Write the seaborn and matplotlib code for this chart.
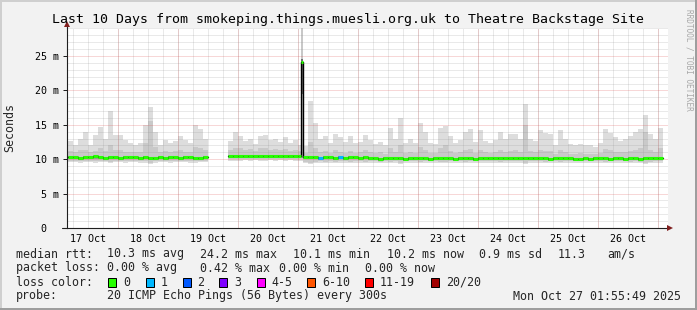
import numpy as np
import pandas as pd
import matplotlib
matplotlib.use("Agg")
import matplotlib.pyplot as plt
from matplotlib.patches import Rectangle
import seaborn as sns

nan = np.nan

# ---------------- data ----------------
title = "Last 10 Days from smokeping.things.muesli.org.uk to Theatre Backstage Site"
day_labels = ["17 Oct", "18 Oct", "19 Oct", "20 Oct", "21 Oct",
              "22 Oct", "23 Oct", "24 Oct", "25 Oct", "26 Oct"]
ytick_values = [0, 5, 10, 15, 20, 25]
ytick_labels = ["0  ", "5 m", "10 m", "15 m", "20 m", "25 m"]

first_bin_hour = 4      # hours after 17 Oct 00:00
bin_hours = 2

# median rtt per 2h bin (ms)
median_ms = [
    10.3, 10.3, 10.2, 10.3, 10.3, 10.4, 10.3, 10.2, 10.3, 10.3,                # 17 Oct
    10.2, 10.3, 10.3, 10.3, 10.2, 10.3, 10.2, 10.2, 10.3, 10.2, 10.3, 10.3,    # 18 Oct
    10.2, 10.3, 10.3, 10.2, 10.2, 10.3, nan, nan, nan, nan, 10.5, 10.5,        # 19 Oct
    10.5, 10.5, 10.5, 10.5, 10.5, 10.5, 10.5, 10.5, 10.5, 10.5, 10.5, 10.5,    # 20 Oct
    10.5, 10.3, 10.3, 10.3, 10.2, 10.3, 10.3, 10.2, 10.3, 10.2, 10.3, 10.3,    # 21 Oct
    10.2, 10.3, 10.2, 10.2, 10.1, 10.2, 10.2, 10.2, 10.2, 10.1, 10.2, 10.2,    # 22 Oct
    10.2, 10.2, 10.1, 10.2, 10.2, 10.2, 10.2, 10.1, 10.2, 10.2, 10.2, 10.1,    # 23 Oct
    10.2, 10.2, 10.2, 10.2, 10.2, 10.2, 10.2, 10.2, 10.2, 10.2, 10.2, 10.2,    # 24 Oct
    10.2, 10.2, 10.1, 10.2, 10.2, 10.2, 10.2, 10.1, 10.1, 10.2, 10.1, 10.2,    # 25 Oct
    10.2, 10.2, 10.1, 10.2, 10.2, 10.1, 10.2, 10.2, 10.1, 10.2, 10.2, 10.2,    # 26 Oct
    10.2,                                                                      # 27 Oct
]

# smoke: lowest ping per bin (ms)
smoke_min_ms = [
    9.6, 9.6, 9.5, 9.6, 9.6, 9.5, 9.6, 9.6, 9.4, 9.6,
    9.6, 9.5, 9.6, 9.6, 9.5, 9.5, 9.3, 9.5, 9.6, 9.6, 9.5, 9.6,
    9.6, 9.6, 9.5, 9.5, 9.6, 9.6, nan, nan, nan, nan, 9.8, 9.8,
    9.8, 9.9, 9.8, 9.9, 9.8, 9.8, 9.9, 9.8, 9.9, 9.8, 9.9, 9.8,
    9.8, 9.4, 9.3, 9.4, 9.5, 9.4, 9.5, 9.4, 9.5, 9.5, 9.4, 9.5,
    9.5, 9.4, 9.5, 9.5, 9.4, 9.5, 9.4, 9.5, 9.3, 9.5, 9.5, 9.5,
    9.4, 9.5, 9.5, 9.5, 9.4, 9.4, 9.5, 9.5, 9.5, 9.4, 9.5, 9.5,
    9.5, 9.5, 9.5, 9.5, 9.4, 9.5, 9.5, 9.5, 9.5, 9.3, 9.5, 9.5,
    9.5, 9.4, 9.5, 9.5, 9.4, 9.5, 9.5, 9.5, 9.5, 9.5, 9.5, 9.5,
    9.5, 9.4, 9.5, 9.5, 9.5, 9.5, 9.4, 9.5, 9.4, 9.3, 9.4, 9.5,
    9.5,
]

# smoke: upper edge of the denser (middle) pings per bin (ms)
smoke_q3_ms = [
    11.2, 11.0, 11.3, 11.4, 11.0, 11.2, 11.6, 11.2, 12.0, 11.3,
    11.4, 11.1, 11.0, 11.0, 11.1, 12.4, 15.5, 11.8, 11.0, 11.2, 11.1, 11.2,
    11.3, 11.1, 11.0, 11.8, 11.6, 11.3, nan, nan, nan, nan, 11.3, 11.6,
    11.6, 11.3, 11.5, 11.2, 11.6, 11.7, 11.4, 11.5, 11.3, 11.5, 11.2, 11.4,
    11.2, 10.9, 12.5, 11.6, 11.0, 11.2, 10.9, 11.3, 11.1, 10.9, 11.2, 10.9,
    11.0, 11.3, 11.1, 10.9, 11.0, 10.8, 11.6, 11.1, 12.0, 10.9, 11.1, 10.9,
    11.8, 11.4, 10.9, 10.9, 11.6, 12.0, 11.2, 10.9, 11.0, 11.4, 11.5, 10.9,
    11.4, 11.0, 10.9, 11.0, 11.3, 11.0, 11.2, 11.3, 11.0, 15.0, 11.2, 11.0,
    11.4, 11.2, 11.2, 10.8, 11.4, 11.0, 10.8, 10.8, 10.9, 10.8, 10.8, 10.7,
    10.9, 11.5, 11.3, 11.1, 11.0, 11.1, 11.2, 11.4, 11.6, 14.0, 11.3, 11.0,
    11.6,
]

# smoke: highest ping per bin (ms)
smoke_max_ms = [
    12.7, 12.1, 13.0, 14.0, 12.0, 13.5, 14.7, 13.0, 17.0, 13.5,
    13.5, 12.8, 12.4, 12.1, 12.4, 15.0, 17.6, 14.0, 12.1, 12.8, 12.4, 12.7,
    13.3, 12.8, 12.4, 15.0, 14.4, 13.0, nan, nan, nan, nan, 12.6, 14.0,
    13.4, 12.6, 12.9, 12.2, 13.3, 13.5, 12.8, 13.0, 12.5, 13.2, 12.3, 12.8,
    12.0, 11.9, 18.4, 15.3, 13.0, 13.4, 12.4, 13.7, 13.2, 12.5, 13.3, 12.4,
    12.5, 13.5, 12.8, 12.2, 12.5, 12.0, 14.6, 13.0, 16.0, 12.4, 13.0, 12.3,
    15.3, 14.0, 12.4, 12.2, 14.6, 14.8, 13.4, 12.4, 12.8, 14.0, 14.4, 12.5,
    14.2, 12.6, 12.4, 12.8, 14.0, 12.9, 13.6, 13.7, 13.0, 18.0, 13.0, 12.6,
    14.2, 13.8, 13.6, 12.1, 14.2, 13.0, 12.2, 12.0, 12.2, 12.1, 12.0, 11.8,
    12.4, 14.4, 13.8, 13.2, 12.6, 13.0, 13.4, 14.0, 14.4, 16.4, 13.6, 13.0,
    14.5,
]

# lost pings (out of 20) per bin
loss_count = [
    0, 0, 0, 0, 0, 0, 0, 0, 0, 0,
    0, 0, 0, 0, 0, 0, 0, 0, 0, 0, 0, 0,
    0, 0, 0, 0, 0, 0, 0, 0, 0, 0, 0, 0,
    0, 0, 0, 0, 0, 0, 0, 0, 0, 0, 0, 0,
    0, 0, 0, 0, 1, 0, 0, 0, 1, 0, 0, 0,
    0, 0, 0, 0, 0, 0, 0, 0, 0, 0, 0, 0,
    0, 0, 0, 0, 0, 0, 0, 0, 0, 0, 0, 0,
    0, 0, 0, 0, 0, 0, 0, 0, 0, 0, 0, 0,
    0, 0, 0, 0, 0, 0, 0, 0, 0, 0, 0, 0,
    0, 0, 0, 0, 0, 0, 0, 0, 0, 0, 0, 0,
    0,
]

# short latency spike on 21 Oct
spike_start_hour = 97.2
spike_end_hour = 98.0
spike_median_ms = 24.2
spike_dense_low_ms = 19.5
spike_max_ms = 30.0

loss_legend_labels = ["0", "1", "2", "3", "4-5", "6-10", "11-19", "20/20"]
loss_legend_colors = ["#26ff00", "#00b8ff", "#0059ff", "#7e00ff",
                      "#ff00ff", "#ff5500", "#ff0000", "#a10000"]

stats_rtt = ["10.3 ms avg", "24.2 ms max", "10.1 ms min", "10.2 ms now",
             "0.9 ms sd", "11.3", "am/s"]
stats_loss = ["0.00 % avg", "0.42 % max", "0.00 % min", "0.00 % now"]
probe_text = "20 ICMP Echo Pings (56 Bytes) every 300s"
stamp_text = "Mon Oct 27 01:55:49 2025"

# ---------------- layout ----------------
W, H = 697, 310
BACK = "#f2f2f2"
sns.set_theme(style="white")
plt.rcParams["font.family"] = ["DejaVu Sans Mono", "DejaVu Sans"]

fig = plt.figure(figsize=(W / 100, H / 100), dpi=100, facecolor=BACK)


def fx(x):
    return x / W


def fy(y):
    return 1 - y / H


ax = fig.add_axes([fx(67), fy(228), 601 / W, 200 / H])
ax.set_facecolor("white")
ax.set_xlim(3.6, 244)
ax.set_ylim(0, 200 / 6.88)

n = len(median_ms)
assert all(len(a) == n for a in (smoke_min_ms, smoke_q3_ms, smoke_max_ms, loss_count))
hours = first_bin_hour + bin_hours * np.arange(n)
med = np.array(median_ms, float)
smin = np.array(smoke_min_ms, float)
sq3 = np.array(smoke_q3_ms, float)
smax = np.array(smoke_max_ms, float)
ok = ~np.isnan(med)

# smoke layers
ax.bar(hours[ok], (smax - smin)[ok], bottom=smin[ok], width=bin_hours, align="edge",
       color="#dddddd", linewidth=0, antialiased=False, zorder=1)
ax.bar(hours[ok], (sq3 - smin - 0.2)[ok], bottom=(smin + 0.2)[ok], width=bin_hours,
       align="edge", color="#c9c9c9", linewidth=0, antialiased=False, zorder=1)
ax.bar(hours[ok], 0.4, bottom=(med - 0.3)[ok], width=bin_hours, align="edge",
       color="#9a9a9a", linewidth=0, antialiased=False, zorder=1)
# spike smoke
ax.bar([spike_start_hour], [spike_max_ms - 10.5], bottom=[10.5],
       width=spike_end_hour - spike_start_hour, align="edge", color="#c8c8c8",
       linewidth=0, zorder=1)
ax.bar([spike_start_hour], [spike_median_ms + 0.3 - spike_dense_low_ms],
       bottom=[spike_dense_low_ms], width=spike_end_hour - spike_start_hour,
       align="edge", color="#707070", linewidth=0, zorder=1)

# median as step line (black connectors)
rows = []
seg = 0
prev_ok = False
for k in range(n):
    if np.isnan(med[k]):
        if prev_ok:
            rows.append((hours[k], med[k - 1], seg))
            seg += 1
        prev_ok = False
        continue
    rows.append((hours[k], med[k], seg))
    if hours[k] < spike_start_hour < hours[k] + bin_hours:
        rows.append((spike_start_hour, spike_median_ms, seg))
    prev_ok = True
rows.append((hours[-1] + bin_hours, med[-1], seg))
df = pd.DataFrame(rows, columns=["hour", "ms", "seg"])
sns.lineplot(data=df, x="hour", y="ms", units="seg", estimator=None, sort=False,
             drawstyle="steps-post", color="black", linewidth=1.0, ax=ax,
             legend=False, zorder=2)


def loss_color(c):
    if c <= 0:
        return loss_legend_colors[0]
    if c <= 3:
        return loss_legend_colors[c]
    if c <= 5:
        return loss_legend_colors[4]
    if c <= 10:
        return loss_legend_colors[5]
    if c <= 19:
        return loss_legend_colors[6]
    return loss_legend_colors[7]


xs0, xs1, ys, cs = [], [], [], []
for k in range(n):
    if not ok[k]:
        continue
    end = hours[k] + bin_hours
    if hours[k] < spike_start_hour < end:
        end = spike_start_hour
    xs0.append(hours[k]); xs1.append(end); ys.append(med[k]); cs.append(loss_color(loss_count[k]))
xs0.append(spike_start_hour); xs1.append(spike_end_hour); ys.append(spike_median_ms)
cs.append(loss_legend_colors[0])
ax.hlines(ys, xs0, xs1, colors=cs, linewidth=2.2, zorder=2.1, capstyle="butt")

# ---------------- grid & axes ----------------
ax.set_xticks(np.arange(12, 240, 24))
ax.set_xticklabels(day_labels)
ax.set_xticks(np.arange(6, 244, 6), minor=True)
ax.xaxis.remove_overlapping_locs = False
ax.set_yticks(ytick_values)
ax.set_yticklabels(ytick_labels)
ax.set_yticks(np.arange(1, 30), minor=True)
ax.set_axisbelow("line")
dot = (0, (1, 1))
ax.grid(which="minor", axis="both", color="#8f8f8f", alpha=0.38, linewidth=0.72, linestyle=dot)
ax.grid(which="major", axis="y", color="#de4f4f", alpha=0.45, linewidth=0.72, linestyle=dot)
ax.grid(which="major", axis="x", visible=False)
for h in range(24, 244, 24):
    ax.axvline(h, color="#de4f4f", alpha=0.45, linewidth=0.72, linestyle=dot, zorder=1.5)

ax.tick_params(axis="x", which="both", length=0, labelsize=7.2, pad=4, colors="black")
ax.tick_params(axis="y", which="major", length=2.9, width=0.72, color="#1f1f1f",
               labelsize=7.2, pad=3, labelcolor="black", direction="out", left=True)
ax.tick_params(axis="y", which="minor", length=0)
ax.set_xlabel("")
ax.set_ylabel("")
for s in ("top", "right"):
    ax.spines[s].set_visible(False)
for s in ("left", "bottom"):
    ax.spines[s].set_color("#1f1f1f")
    ax.spines[s].set_linewidth(0.8)
    ax.spines[s].set_zorder(3)

ax.plot([-5 / 601, 0], [0, 0], transform=ax.transAxes, color="#1f1f1f", lw=0.8, clip_on=False)
ax.plot([0, 0], [1, 1.02], transform=ax.transAxes, color="#1f1f1f", lw=0.8, clip_on=False)
ax.plot([1, 1.004], [0, 0], transform=ax.transAxes, color="#1f1f1f", lw=0.8, clip_on=False)
ax.plot([0], [1.02], marker="^", ms=4.2, color="#801f1f", transform=ax.transAxes,
        clip_on=False, zorder=5, markeredgewidth=0)
ax.plot([1.004], [0], marker=">", ms=4.2, color="#801f1f", transform=ax.transAxes,
        clip_on=False, zorder=5, markeredgewidth=0)

# ---------------- texts ----------------
fig.text(fx(347.5), fy(19), title, ha="center", va="center", fontsize=9.5, color="black")
fig.text(fx(10), fy(128), "Seconds", rotation=90, ha="center", va="center", fontsize=8.4)
fig.text(fx(688.5), fy(60), "RRDTOOL / TOBI OETIKER", rotation=-90, ha="center",
         va="center", fontsize=5.6, color="#a8a8a8")

LF = 8.4
row_y = [254, 268, 282, 296]
fig.text(fx(16), fy(row_y[0]), "median rtt:", va="center", fontsize=LF)
for xpos, s in zip([107, 200, 293, 387, 479, 558, 607], stats_rtt):
    fig.text(fx(xpos), fy(row_y[0]), s, va="center", fontsize=LF)
fig.text(fx(16), fy(row_y[1]), "packet loss:", va="center", fontsize=LF)
for xpos, s in zip([107, 200, 279, 365], stats_loss):
    fig.text(fx(xpos), fy(row_y[1]), s, va="center", fontsize=LF)
fig.text(fx(16), fy(row_y[2]), "loss color:", va="center", fontsize=LF)
box_x = [108, 146, 183, 219, 257, 307, 365, 431]
text_x = [123, 161, 197, 234, 271, 322, 380, 446]
for bx, tx, lab, col in zip(box_x, text_x, loss_legend_labels, loss_legend_colors):
    fig.patches.append(Rectangle((fx(bx), fy(286.5)), 8 / W, 9 / H, transform=fig.transFigure,
                                 facecolor=col, edgecolor="black", linewidth=0.72, figure=fig))
    fig.text(fx(tx), fy(row_y[2]), lab, va="center", fontsize=LF)
fig.text(fx(16), fy(row_y[3]), "probe:", va="center", fontsize=LF)
fig.text(fx(107), fy(row_y[3]), probe_text, va="center", fontsize=LF)
fig.text(fx(513), fy(row_y[3]), stamp_text, va="center", fontsize=LF)

# 3D frame
for (x0, y0, w, h, c) in [
    (0, 1 - 2 / H, 1, 2 / H, "#cfcfcf"),
    (0, 0, 2 / W, 1, "#cfcfcf"),
    (0, 0, 1, 2 / H, "#9e9e9e"),
    (1 - 2 / W, 0, 2 / W, 1, "#9e9e9e"),
]:
    fig.patches.append(Rectangle((x0, y0), w, h, transform=fig.transFigure,
                                 facecolor=c, edgecolor="none", figure=fig))

fig.savefig("out.png", dpi=100, facecolor=BACK)
